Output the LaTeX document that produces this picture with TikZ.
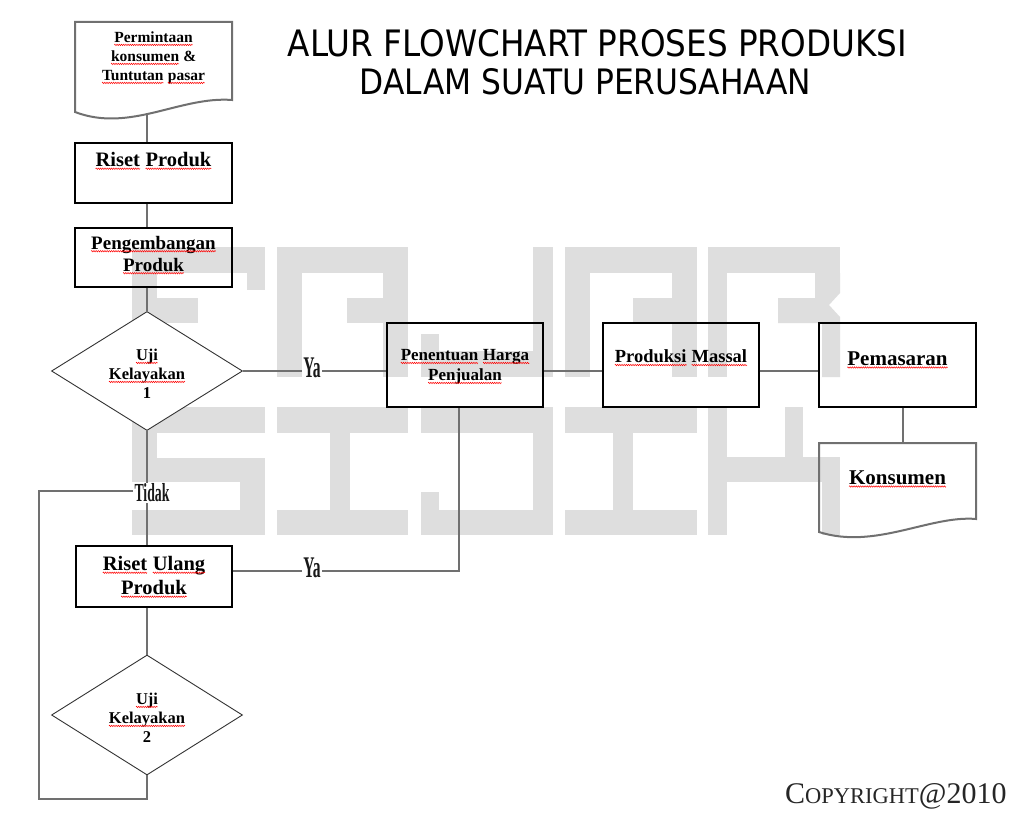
\documentclass[tikz,border=0pt]{standalone}
\usepackage{fontspec}
\usepackage{graphicx}
\setmainfont{Liberation Serif}
\newfontfamily\titlefont{DejaVu Sans}
\usetikzlibrary{shapes.geometric,decorations.pathmorphing}
\definecolor{wm}{RGB}{222,222,222}
\definecolor{lineg}{RGB}{112,112,112}
\newcommand\fs[2]{\fontsize{#1}{#2}\selectfont}
\newcommand\sq[1]{\tikz[baseline=(w.base),x=1pt,y=1pt]{\node[inner sep=0pt,outer sep=0pt,draw=none,fill=none](w){#1};\draw[red,line width=0.5pt,decorate,decoration={zigzag,amplitude=0.7pt,segment length=2.2pt}] ([yshift=-2.2pt]w.base west) -- ([yshift=-2.2pt]w.base east);}}
\begin{document}
\begin{tikzpicture}[x=1pt,y=-1pt,
  box/.style={draw=black,line width=1.2pt,inner sep=0pt,minimum width=157pt,minimum height=84pt},
  dia/.style={diamond,draw=black!80,line width=0.9pt,fill=white,inner sep=0pt,minimum width=191pt,minimum height=119pt},
  docline/.style={draw=lineg,line width=2pt},
  frame/.style={inner sep=0pt,minimum width=157pt},
  conn/.style={draw=lineg,line width=1.6pt},
  txt/.style={align=center,inner sep=0pt,font=\bfseries},
  lab/.style={fill=white,inner sep=1.5pt,text=black!90}]
\useasboundingbox (0,0) rectangle (1024,818);
\fill[white] (0,0) rectangle (1024,818);
% ---------- watermark ----------
\begin{scope}[wm]
% F
\fill (132,247) rectangle (157,377);
\fill (132,247) rectangle (265,273);
\fill (247,273) rectangle (265,290);
\fill (132,298) rectangle (198,323);
% A
\fill (277,247) rectangle (302,377);
\fill (383,247) rectangle (408,377);
\fill (277,247) rectangle (408,273);
\fill (347,298) rectangle (408,323);
% J
\fill (533,247) rectangle (553,377);
\fill (421,351) rectangle (553,377);
\fill (421,334) rectangle (439,377);
% A
\fill (565,247) rectangle (590,377);
\fill (672,247) rectangle (697,377);
\fill (565,247) rectangle (697,273);
\fill (633,298) rectangle (697,323);
% R
\fill (708,247) rectangle (727,377);
\fill (708,247) rectangle (840,273);
\fill (815,273) -- (840,273) -- (840,293) -- (829,305) -- (840,317) -- (840,377) -- (822,377) -- (822,323) -- (778,323) -- (778,298) -- (815,298) -- cycle;
% S
\fill (132,407) rectangle (265,433);
\fill (132,407) rectangle (157,482);
\fill (132,458) rectangle (265,482);
\fill (240,458) rectangle (265,535);
\fill (132,510) rectangle (265,535);
% I
\fill (277,407) rectangle (408,433);
\fill (330,433) rectangle (350,510);
\fill (277,510) rectangle (408,535);
% D
\fill (421,407) rectangle (553,433);
\fill (533,407) rectangle (553,535);
\fill (421,510) rectangle (553,535);
\fill (421,492) rectangle (439,512);
% I
\fill (565,407) rectangle (697,433);
\fill (613,433) rectangle (633,510);
\fill (565,510) rectangle (697,535);
% K
\fill (708,407) rectangle (727,535);
\fill (785,407) rectangle (803,458);
\fill (727,457) rectangle (840,482);
\fill (822,482) rectangle (840,535);
\end{scope}
% ---------- title ----------
\node[inner sep=0pt] (title1) at (597.5,43.5) {\titlefont\resizebox{619pt}{27pt}{ALUR FLOWCHART PROSES PRODUKSI}};
\node[inner sep=0pt] (title2) at (585.5,82) {\titlefont\resizebox{451pt}{26pt}{DALAM SUATU PERUSAHAAN}};
% ---------- shapes ----------
\node[frame,minimum height=93pt] (doc1) at (153.5,68.5) {};
\draw[docline] (75,22) -- (232,22) -- (232,100) .. controls (180,96) and (130,133) .. (75,112) -- cycle;
\node[box,minimum height=60pt] (riset) at (153.5,173) {};
\node[box,minimum height=59pt] (peng) at (153.5,257.5) {};
\node[dia] (d1) at (147,371) {};
\node[box,minimum width=156pt] (pen) at (465,365) {};
\node[box,minimum width=156pt] (prod) at (681,365) {};
\node[box] (pem) at (897.5,365) {};
\node[frame,minimum height=95pt] (kons) at (897.5,490.5) {};
\draw[docline] (819,443) -- (976,443) -- (976,519) .. controls (930,515) and (875,550) .. (819,532) -- cycle;
\node[box,minimum width=156pt,minimum height=61pt] (ulang) at (154,576.5) {};
\node[dia,minimum height=120pt] (d2) at (147,715) {};
% ---------- labels ----------
\node[lab,font=\fs{30}{30}\bfseries] (ya1) at (312,368) {\scalebox{0.52}[1]{Ya}};
\node[lab,font=\fs{30}{30}\bfseries] (ya2) at (312,568) {\scalebox{0.52}[1]{Ya}};
\node[lab,font=\fs{26}{26}\bfseries,inner sep=1pt] (tidak) at (152,493) {\scalebox{0.53}[1]{Tidak}};
% ---------- connectors ----------
\coordinate (vx) at (147,0);
\coordinate (ry) at (0,571);
\coordinate (rc) at (459,571);
\coordinate (px) at (903,0);
\coordinate (lb) at (147,799);
\coordinate (ll) at (39,799);
\coordinate (lt) at (39,491);
\draw[conn] (doc1.south -| vx) -- (riset.north -| vx);
\draw[conn] (riset.south -| vx) -- (peng.north -| vx);
\draw[conn] (peng.south -| vx) -- (d1.north);
\draw[conn] (d1.east) -- (d1.east -| ya1.west);
\draw[conn] (ya1.east |- d1.east) -- (pen.west |- d1.east);
\draw[conn] (pen.east |- d1.east) -- (prod.west |- d1.east);
\draw[conn] (prod.east |- d1.east) -- (pem.west |- d1.east);
\draw[conn] (pem.south -| px) -- (kons.north -| px);
\draw[conn] (d1.south) -- (d1.south |- tidak.north);
\draw[conn] (d1.south |- tidak.south) -- (ulang.north -| vx);
\draw[conn] (ulang.south -| vx) -- (d2.north);
\draw[conn] (d2.south) -- (lb) -- (ll) -- (lt) -- (tidak.west |- lt);
\draw[conn] (ulang.east |- ry) -- (ya2.west |- ry);
\draw[conn] (ya2.east |- ry) -- (rc) -- (pen.south -| rc);
% ---------- texts ----------
\node[txt,font=\fs{15.5}{19}\bfseries] (doc1t) at (153.5,58) {\sq{Permintaan}\\\sq{konsumen} \&\\\sq{Tuntutan} \sq{pasar}};
\node[txt,font=\fs{20.5}{24}\bfseries] (risett) at (153.5,161) {\sq{Riset} \sq{Produk}};
\node[txt,font=\fs{19}{22}\bfseries] (pengt) at (153.5,255) {\sq{Pengembangan}\\\sq{Produk}};
\node[txt,font=\fs{16.5}{19}\bfseries] (d1t) at (147,374) {\sq{Uji}\\\sq{Kelayakan}\\1};
\node[txt,font=\fs{17}{20}\bfseries] (pent) at (465,367) {\sq{Penentuan} \sq{Harga}\\\sq{Penjualan}};
\node[txt,font=\fs{18.5}{22}\bfseries] (prodt) at (681,358) {\sq{Produksi} \sq{Massal}};
\node[txt,font=\fs{21}{24}\bfseries] (pemt) at (897.5,360) {\sq{Pemasaran}};
\node[txt,font=\fs{21}{24}\bfseries] (konst) at (897.5,479) {\sq{Konsumen}};
\node[txt,font=\fs{20.5}{24}\bfseries] (ulangt) at (154,577) {\sq{Riset} \sq{Ulang}\\\sq{Produk}};
\node[txt,font=\fs{16.5}{19}\bfseries] (d2t) at (147,718) {\sq{Uji}\\\sq{Kelayakan}\\2};
% ---------- copyright ----------
\node[anchor=base west,inner sep=0pt,text=black!85] (copy) at (785,803) {\fs{30}{30}C\fs{22.5}{22}OPYRIGHT\fs{30}{30}@2010};
\end{tikzpicture}
\end{document}
